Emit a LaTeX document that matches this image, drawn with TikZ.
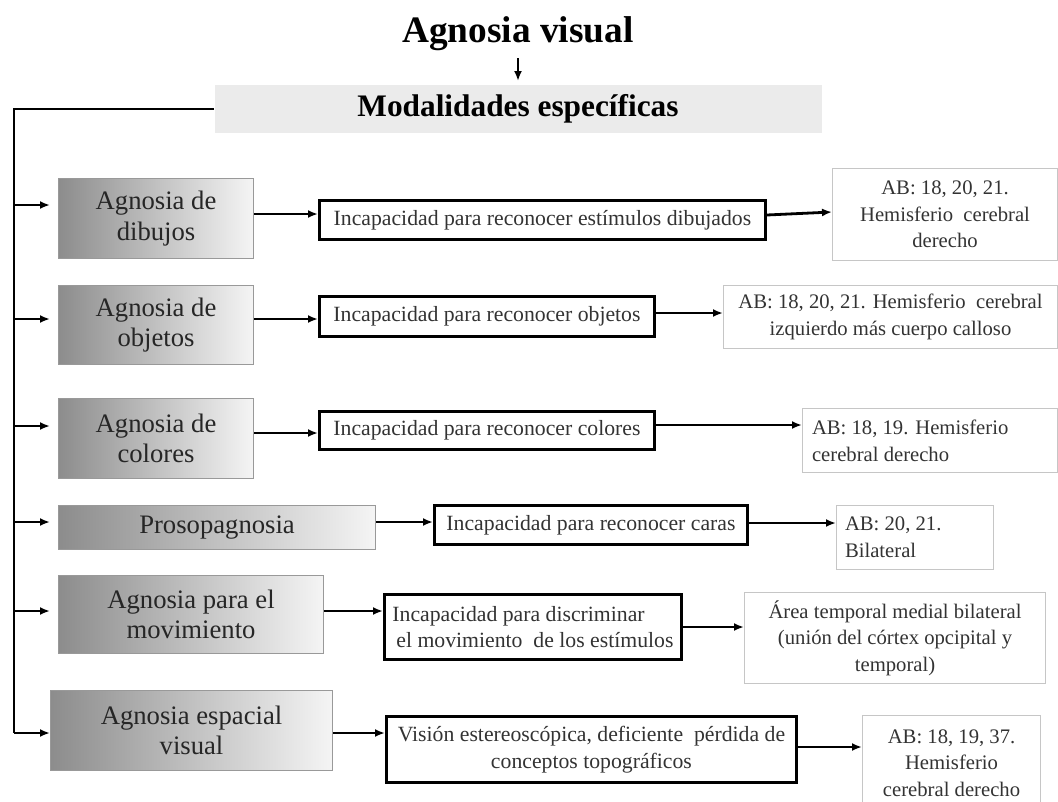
\documentclass[tikz,border=0pt]{standalone}
\usepackage{fontspec}
\setmainfont{Liberation Serif}
\usetikzlibrary{arrows.meta,calc}
\begin{document}
\begin{tikzpicture}[x=0.75pt,y=-0.75pt,
  arr/.style={line width=2.1pt,-{Latex[length=7.5pt,width=6pt]}},
  trunk/.style={line width=2.1pt},
  sz/.style 2 args={minimum width=#1*0.75pt, minimum height=#2*0.75pt},
  leftbox/.style={draw=gray!80, line width=0.8pt, left color=black!45, right color=white!96!black, inner sep=0pt, align=center, anchor=north west, text=black!85, font=\fontsize{20}{23}\selectfont},
  midbox/.style={draw=black, line width=2.2pt, fill=white, inner sep=0pt, anchor=north west, text=black!80, font=\fontsize{16.3}{20}\selectfont},
  rightbox/.style={draw=gray!45, line width=0.8pt, fill=white, inner sep=0pt, anchor=north west, text=black!80, font=\fontsize{15.5}{20}\selectfont},
  modbox/.style={fill=black!8, inner sep=0pt, font=\bfseries\fontsize{23.5}{26}\selectfont},
  titlenode/.style={inner sep=0pt, font=\bfseries\fontsize{28}{30}\selectfont},
]
\useasboundingbox (0,0) rectangle (1058,801);

% title and header
\node[titlenode] (title) at (518,34) {Agnosia visual};
\node[modbox, sz={607}{48}] (mod) at (518,109) {Modalidades específicas};
\draw[arr] (518,58) -- (518,81);

% trunk coordinates
\coordinate (t1) at (14,205);
\coordinate (t2) at (14,319);
\coordinate (t3) at (14,426);
\coordinate (t4) at (14,522);
\coordinate (t5) at (14,611);
\coordinate (t6) at (14,733);
\draw[trunk] (mod.west) -- (mod.west -| t1) -- (t6);

% left boxes
\node[leftbox, sz={195}{80}] (b1) at (58,178) {Agnosia de\\dibujos};
\node[leftbox, sz={195}{79}] (b2) at (58,285) {Agnosia de\\objetos};
\node[leftbox, sz={195}{80}] (b3) at (58,398) {Agnosia de\\colores};
\node[leftbox, sz={317}{44}] (b4) at (58,505) {Prosopagnosia};
\node[leftbox, sz={265}{78}] (b5) at (58,575) {Agnosia para el\\movimiento};
\node[leftbox, sz={282}{80}] (b6) at (50,690) {Agnosia espacial\\visual};

% middle boxes
\node[midbox, sz={446}{39}] (m1) at (318,199) {Incapacidad para reconocer estímulos dibujados};
\node[midbox, sz={335}{40}] (m2) at (318,295) {Incapacidad para reconocer objetos};
\node[midbox, sz={335}{38}] (m3) at (318,410) {Incapacidad para reconocer colores};
\node[midbox, sz={313}{39}] (m4) at (433,504) {Incapacidad para reconocer caras};
\node[midbox, sz={297}{65}, align=left] (m5) at (383,593) {Incapacidad para discriminar\\\hspace{3pt}el movimiento\ \ de los estímulos};
\node[midbox, sz={410}{66}, align=center] (m6) at (385,715) {Visión estereoscópica, deficiente\ \ pérdida de\\conceptos topográficos};

% right boxes
\node[rightbox, sz={225}{92}, align=center] (r1) at (832,168) {AB: 18, 20, 21.\\Hemisferio\ \ cerebral\\derecho};
\node[rightbox, sz={334}{63}, align=center] (r2) at (723,285) {AB: 18, 20, 21. Hemisferio\ \ cerebral\\izquierdo más cuerpo calloso};
\node[rightbox, sz={255}{64}, align=flush left, text width=236*0.75pt] (r3) at (802,408) {AB: 18, 19. Hemisferio\\cerebral derecho};
\node[rightbox, sz={157}{64}, align=flush left, text width=140*0.75pt] (r4) at (836,505) {AB: 20, 21.\\Bilateral};
\node[rightbox, sz={301}{91}, align=center] (r5) at (744,592) {Área temporal medial bilateral\\(unión del córtex opcipital y\\temporal)};
\node[rightbox, sz={178}{95}, align=center] (r6) at (862,715) {AB: 18, 19, 37.\\Hemisferio\\cerebral derecho};

% arrows from trunk
\draw[arr, shorten >=8*0.75pt] (t1) -- (b1.west |- t1);
\draw[arr, shorten >=8*0.75pt] (t2) -- (b2.west |- t2);
\draw[arr, shorten >=8*0.75pt] (t3) -- (b3.west |- t3);
\draw[arr, shorten >=8*0.75pt] (t4) -- (b4.west |- t4);
\draw[arr, shorten >=8*0.75pt] (t5) -- (b5.west |- t5);
\draw[arr] (t6) -- (b6.west |- t6);

% left -> middle
\draw[arr] (b1.east |- 0,214) -- (m1.west |- 0,214);
\draw[arr] (b2.east |- 0,319) -- (m2.west |- 0,319);
\draw[arr] (b3.east |- 0,433) -- (m3.west |- 0,433);
\draw[arr] (b4.east |- 0,522) -- (m4.west |- 0,522);
\draw[arr] (b5.east |- 0,611) -- (m5.west |- 0,611);
\draw[arr] (b6.east |- 0,733) -- (m6.west |- 0,733);

% middle -> right
\draw[arr] (m1.east |- 0,215) -- (r1.west |- 0,212);
\draw[arr] (m2.east |- 0,313) -- (r2.west |- 0,313);
\draw[arr] (m3.east |- 0,425) -- (r3.west |- 0,425);
\draw[arr] (m4.east |- 0,523) -- (r4.west |- 0,523);
\draw[arr] (m5.east |- 0,627) -- (r5.west |- 0,627);
\draw[arr] (m6.east |- 0,747) -- (r6.west |- 0,747);
\end{tikzpicture}
\end{document}
